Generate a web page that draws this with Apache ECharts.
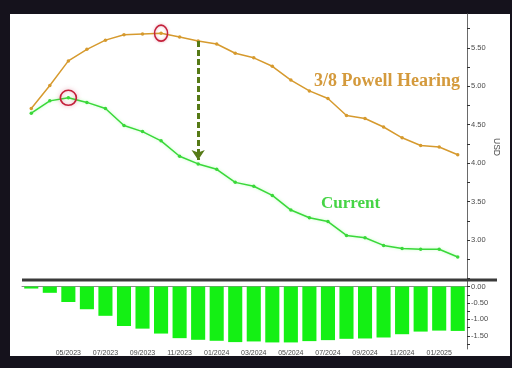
<!DOCTYPE html>
<html>
<head>
<meta charset="utf-8">
<script src="https://cdn.jsdelivr.net/npm/echarts@6/dist/echarts.min.js"></script>
<style>
html,body{margin:0;padding:0;background:#15121c;}
#panel{position:absolute;left:10px;top:14px;width:500px;height:342px;background:#ffffff;}
#chart{position:absolute;left:0;top:0;width:512px;height:368px;}
</style>
</head>
<body>
<div id="panel"></div>
<div id="chart"></div>
<script>
const months = ['03/2023','04/2023','05/2023','06/2023','07/2023','08/2023','09/2023','10/2023','11/2023','12/2023',
  '01/2024','02/2024','03/2024','04/2024','05/2024','06/2024','07/2024','08/2024','09/2024','10/2024',
  '11/2024','12/2024','01/2025','02/2025'];
const powellHearing = [4.71,5.01,5.33,5.48,5.60,5.67,5.68,5.69,5.64,5.59,5.55,5.43,5.37,5.26,5.08,4.94,4.84,4.62,4.58,4.47,4.33,4.23,4.21,4.11];
const current = [4.65,4.81,4.85,4.79,4.71,4.49,4.41,4.29,4.09,3.99,3.92,3.75,3.70,3.58,3.39,3.29,3.24,3.06,3.03,2.93,2.89,2.88,2.88,2.78];
const difference = [-0.06,-0.19,-0.47,-0.69,-0.89,-1.20,-1.28,-1.43,-1.57,-1.62,-1.65,-1.69,-1.67,-1.70,-1.70,-1.66,-1.63,-1.59,-1.58,-1.55,-1.45,-1.37,-1.34,-1.35];
const upperTicks = [3.00,3.50,4.00,4.50,5.00,5.50];
const upperMinorTicks = [2.50,2.75,3.00,3.25,3.50,3.75,4.00,4.25,4.50,4.75,5.00,5.25,5.50,5.75];
const lowerTicks = [0.00,-0.50,-1.00,-1.50];
const lowerMinorTicks = [0.00,-0.25,-0.50,-0.75,-1.00,-1.25,-1.50,-1.75];
const hearingLabel = '3/8 Powell Hearing';
const currentLabel = 'Current';
const peakHearingIdx = 7;
const peakCurrentIdx = 2;
const arrowIdx = 9;

const chart = echarts.init(document.getElementById('chart'), null, {renderer:'canvas'});
const axisColor = '#6a6a6a';
const labelStyle = {fontSize:7.5, color:'#4a4a4a', fontFamily:'Liberation Sans'};

chart.setOption({
  animation:false,
  backgroundColor:'transparent',
  grid:[
    {left:22, right:45, top:14, height:266},
    {left:22, right:45, top:280, height:69}
  ],
  xAxis:[
    {type:'category', gridIndex:0, data:months, boundaryGap:true, show:false},
    {type:'category', gridIndex:1, data:months, boundaryGap:true,
     axisLine:{lineStyle:{color:'#8a8a8a', width:1}},
     axisTick:{alignWithLabel:true, length:3, interval:(i)=>i%2===0, lineStyle:{color:'#8a8a8a'}},
     axisLabel:Object.assign({interval:(i)=>i>0 && i%2===0, margin:1}, labelStyle, {fontSize:7})}
  ],
  yAxis:[
    {type:'value', gridIndex:0, position:'right', min:2.48, max:5.94,
     splitLine:{show:false},
     axisLine:{show:true, lineStyle:{color:axisColor}},
     axisTick:{show:true, length:3, customValues:upperMinorTicks, lineStyle:{color:'#333'}},
     axisLabel:Object.assign({customValues:upperTicks, margin:4, formatter:(v)=>v.toFixed(2)}, labelStyle),
     name:'USD', nameLocation:'middle', nameRotate:-90, nameGap:25, nameMoveOverlap:false,
     nameTextStyle:{fontSize:8.5, color:'#4a4a4a', fontFamily:'Liberation Sans'}},
    {type:'value', gridIndex:1, position:'right', min:-1.9, max:0.2,
     splitLine:{show:false},
     axisLine:{show:true, lineStyle:{color:axisColor}},
     axisTick:{show:true, length:3, customValues:lowerMinorTicks, lineStyle:{color:'#333'}},
     axisLabel:Object.assign({customValues:lowerTicks, margin:4, formatter:(v)=>v.toFixed(2)}, labelStyle)}
  ],
  series:[
    {type:'line', name:hearingLabel, xAxisIndex:0, yAxisIndex:0, data:powellHearing,
     color:'#d69a2e', symbol:'circle', symbolSize:3.5,
     lineStyle:{width:1.5, color:'#d69a2e'}, itemStyle:{color:'#d69a2e'},
     markPoint:{symbol:'circle', symbolSize:[13,16], silent:true,
       itemStyle:{color:'rgba(0,0,0,0)', borderColor:'#c4203a', borderWidth:1.6, shadowColor:'rgba(200,60,90,0.45)', shadowBlur:3},
       label:{show:false},
       data:[{coord:[peakHearingIdx, powellHearing[peakHearingIdx]]}]},
     markLine:{silent:true, symbol:['none','arrow'], symbolSize:[10,10], label:{show:false},
       lineStyle:{color:'#567a16', width:3, type:[6,3]},
       data:[[{coord:[arrowIdx, powellHearing[arrowIdx]]},{coord:[arrowIdx, current[arrowIdx]+0.05]}]]},
     z:3},
    {type:'line', name:currentLabel, xAxisIndex:0, yAxisIndex:0, data:current,
     color:'#3ad83a', symbol:'circle', symbolSize:3.5,
     lineStyle:{width:1.5, color:'#3ad83a', shadowColor:'rgba(120,255,120,0.5)', shadowBlur:3},
     itemStyle:{color:'#3ad83a'},
     markPoint:{symbol:'circle', symbolSize:[16,15], silent:true,
       itemStyle:{color:'rgba(0,0,0,0)', borderColor:'#c4203a', borderWidth:1.6, shadowColor:'rgba(200,60,90,0.5)', shadowBlur:4},
       label:{show:false},
       data:[{coord:[peakCurrentIdx, current[peakCurrentIdx]]}]},
     z:3},
    {type:'bar', name:'Difference', xAxisIndex:1, yAxisIndex:1, data:difference,
     barWidth:'76%', itemStyle:{color:'#14f014'}}
  ],
  graphic:[
    {type:'line', shape:{x1:22, y1:280, x2:497, y2:280}, style:{stroke:'#3a3a3a', lineWidth:3}, z:10},
    {type:'text', x:314, y:72, style:{text:hearingLabel, fill:'#d49a3c', font:'bold 18px "Liberation Serif"'}, z:10},
    {type:'text', x:321, y:195, style:{text:currentLabel, fill:'#45d445', font:'bold 17px "Liberation Serif"'}, z:10}
  ]
});
</script>
</body>
</html>
